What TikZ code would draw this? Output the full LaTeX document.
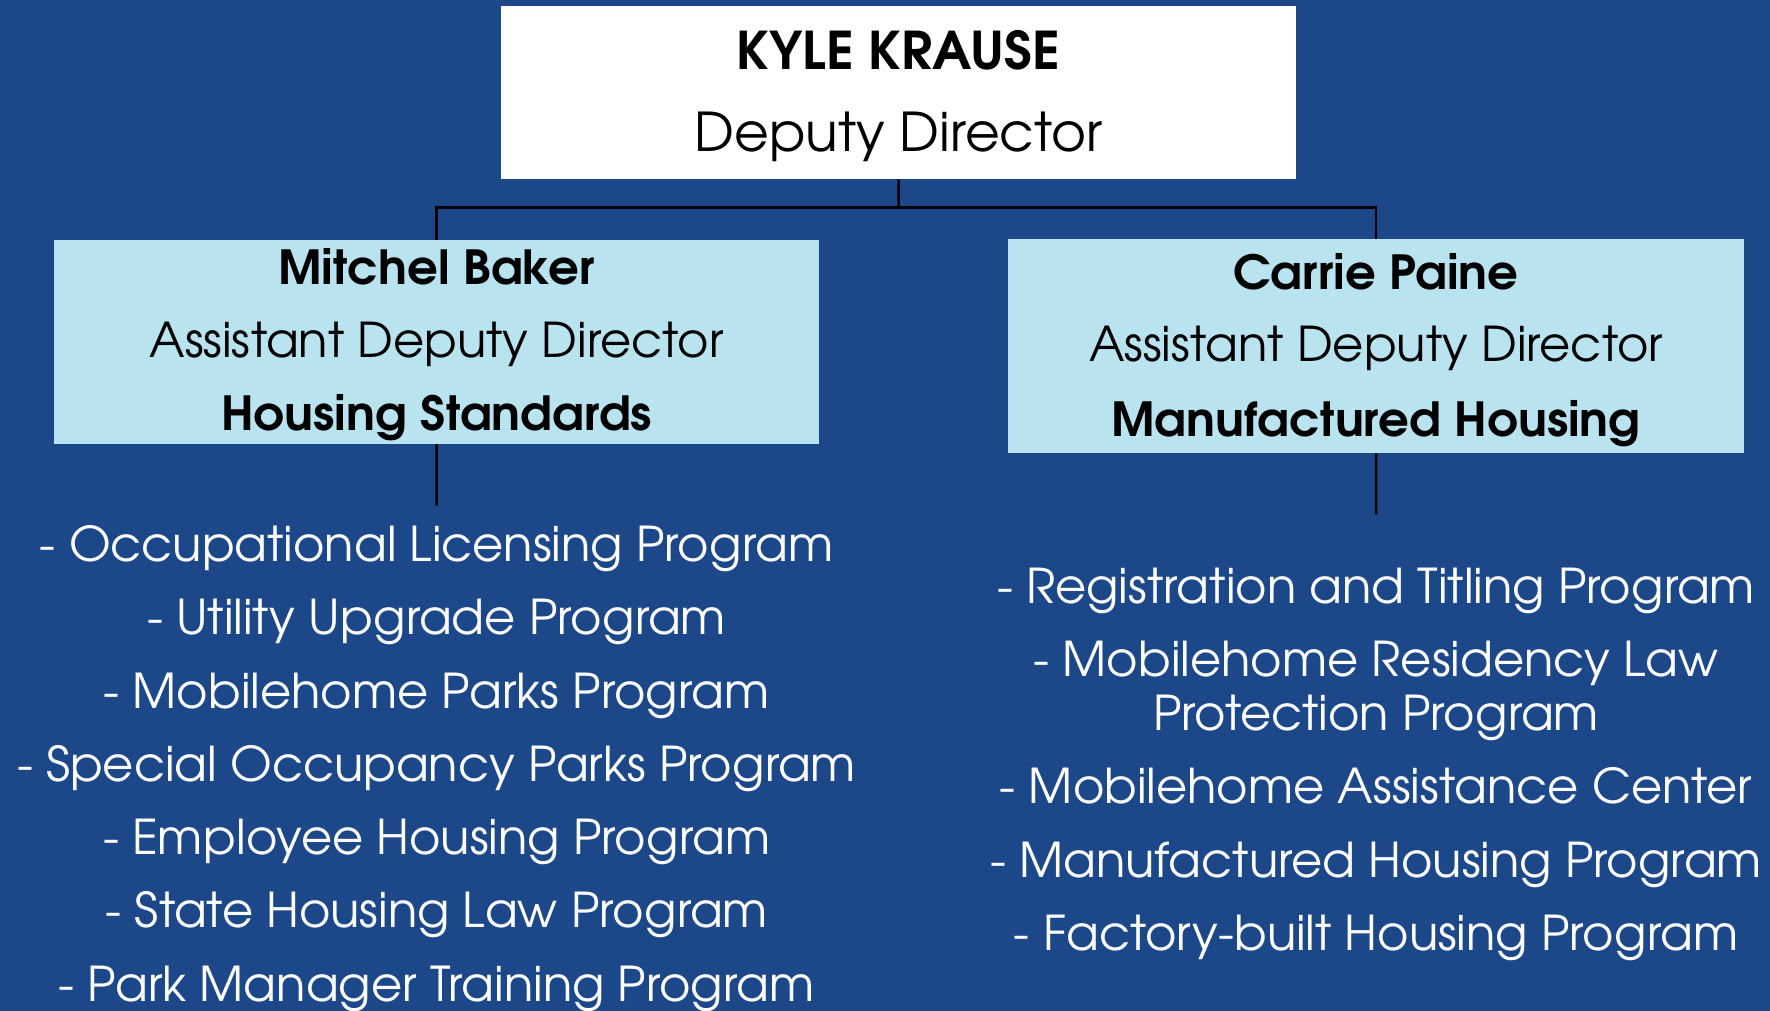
\documentclass[tikz,border=0pt]{standalone}
\usepackage{fontspec}
\setmainfont{texgyreadventor}[Extension=.otf, UprightFont=*-regular, BoldFont=*-bold, BoldFeatures={FakeStretch=1.025}]
\definecolor{bgblue}{RGB}{28,71,137}
\definecolor{lightbox}{RGB}{184,227,239}
\tikzset{
  boxw/.style={fill=white, draw=none, inner sep=0pt, anchor=north west},
  boxl/.style={fill=lightbox, draw=none, inner sep=0pt, anchor=north west},
  dark/.style={text=black, anchor=base, inner sep=0pt},
  item/.style={text=white, anchor=base, inner sep=0pt, font=\fontsize{48}{50}\selectfont},
  conn/.style={draw=black, line width=2.5pt}
}
\begin{document}
\begin{tikzpicture}[x=1pt,y=-1pt]
\fill[bgblue] (0,0) rectangle (1770,1011);
\useasboundingbox (0,0) rectangle (1770,1011);
% boxes
\node[boxw, minimum width=795pt, minimum height=173pt] (top) at (501,6) {};
\node[boxl, minimum width=765pt, minimum height=204pt] (left) at (54,240) {};
\node[boxl, minimum width=736pt, minimum height=214pt] (right) at (1008,239) {};
% box texts
\node[dark, font=\fontsize{52}{56}\bfseries] (t1) at (898.5,69.3) {KYLE KRAUSE};
\node[dark, font=\fontsize{53.5}{56}\selectfont] (t2) at (898.5,151.7) {Deputy Director};
\node[dark, font=\fontsize{47}{50}\bfseries] (l1t) at (436.5,284) {Mitchel Baker};
\node[dark, font=\fontsize{48}{50}\selectfont] (l2t) at (436.5,357.7) {Assistant Deputy Director};
\node[dark, font=\fontsize{47}{50}\bfseries] (l3t) at (436.5,430.7) {Housing Standards};
\node[dark, font=\fontsize{47}{50}\bfseries] (r1t) at (1376,289) {Carrie Paine};
\node[dark, font=\fontsize{48}{50}\selectfont] (r2t) at (1376,361.7) {Assistant Deputy Director};
\node[dark, font=\fontsize{47}{50}\bfseries] (r3t) at (1376,436) {Manufactured Housing};
% connectors
\coordinate (bus) at (898.5,207.7);
\coordinate (lend) at (436.5,505.7);
\coordinate (rend) at (1376,514.3);
\draw[conn] (top.south) -- (bus);
\draw[conn] (left.north) |- (bus) -| (right.north);
\draw[conn] (left.south) -- (lend);
\draw[conn] (right.south) -- (rend);
% left list
\node[item] (a1) at (436.5,561.7) {- Occupational Licensing Program};
\node[item] (a2) at (436.5,634.9) {- Utility Upgrade Program};
\node[item] (a3) at (436.5,708.1) {- Mobilehome Parks Program};
\node[item] (a4) at (436.5,781.3) {- Special Occupancy Parks Program};
\node[item] (a5) at (436.5,854.5) {- Employee Housing Program};
\node[item] (a6) at (436.5,927.7) {- State Housing Law Program};
\node[item] (a7) at (436.5,1001.7) {- Park Manager Training Program};
% right list
\node[item] (b1) at (1376,603.3) {- Registration and Titling Program};
\node[item] (b2) at (1376,676.7) {- Mobilehome Residency Law};
\node[item] (b2b) at (1376,730.7) {Protection Program};
\node[item] (b3) at (1376,803.3) {- Mobilehome Assistance Center};
\node[item] (b4) at (1376,877.3) {- Manufactured Housing Program};
\node[item] (b5) at (1376,950.7) {- Factory-built Housing Program};
\end{tikzpicture}
\end{document}
